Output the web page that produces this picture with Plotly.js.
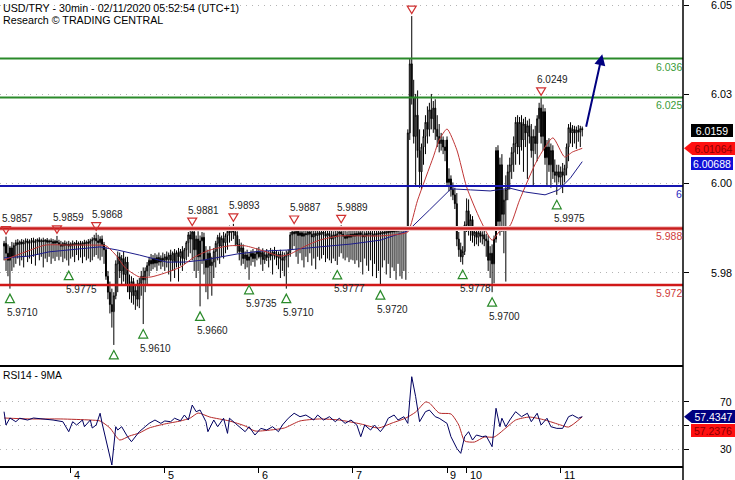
<!DOCTYPE html>
<html><head><meta charset="utf-8">
<script src="https://cdn.plot.ly/plotly-3.0.1.min.js"></script>
<style>html,body{margin:0;padding:0;background:#fff}#chart{width:735px;height:480px}</style>
</head><body><div id="chart"></div>
<script>
// ---------- data (30-min bars, index 0 = first bar on the chart) ----------
const dayTickBars = [34, 82, 130, 178, 226, 236, 284];
const dayTickLabels = ['4', '5', '6', '7', '9', '10', '11'];

const openP = [
5.9830,5.9838,5.9810,5.9790,5.9825,5.9800,5.9832,5.9840,5.9835,5.9842,
5.9836,5.9841,5.9845,5.9838,5.9843,5.9846,5.9840,5.9844,5.9848,5.9842,
5.9846,5.9843,5.9847,5.9841,5.9845,5.9843,5.9838,5.9844,5.9840,5.9835,
5.9830,5.9838,5.9832,5.9836,5.9830,5.9837,5.9833,5.9839,5.9834,5.9838,
5.9832,5.9840,5.9836,5.9842,5.9838,5.9845,5.9848,5.9852,5.9845,5.9840,
5.9850,5.9835,5.9820,5.9745,5.9700,5.9665,5.9645,5.9690,5.9780,5.9800,
5.9760,5.9795,5.9750,5.9785,5.9720,5.9700,5.9730,5.9690,5.9705,5.9680,
5.9725,5.9745,5.9735,5.9760,5.9775,5.9790,5.9780,5.9795,5.9782,5.9798,
5.9785,5.9796,5.9790,5.9800,5.9792,5.9805,5.9790,5.9810,5.9785,5.9812,
5.9800,5.9815,5.9795,5.9820,5.9840,5.9862,5.9850,5.9870,5.9820,5.9850,
5.9800,5.9845,5.9855,5.9790,5.9770,5.9810,5.9775,5.9785,5.9815,5.9838,
5.9855,5.9830,5.9852,5.9840,5.9860,5.9872,5.9868,5.9880,5.9870,5.9860,
5.9835,5.9815,5.9825,5.9795,5.9805,5.9790,5.9800,5.9810,5.9795,5.9808,
5.9815,5.9800,5.9812,5.9792,5.9806,5.9798,5.9810,5.9802,5.9814,5.9805,
5.9798,5.9808,5.9795,5.9790,5.9800,5.9805,5.9812,5.9862,5.9870,5.9865,
5.9872,5.9860,5.9868,5.9858,5.9866,5.9862,5.9870,5.9864,5.9856,5.9866,
5.9860,5.9868,5.9862,5.9870,5.9865,5.9858,5.9866,5.9860,5.9850,5.9862,
5.9856,5.9865,5.9870,5.9864,5.9858,5.9852,5.9862,5.9855,5.9864,5.9858,
5.9866,5.9860,5.9868,5.9862,5.9856,5.9866,5.9860,5.9868,5.9864,5.9858,
5.9866,5.9862,5.9868,5.9864,5.9870,5.9866,5.9872,5.9868,5.9874,5.9870,
5.9876,5.9872,5.9878,5.9874,5.9880,5.9876,5.9882,6.0150,6.0345,6.0250,
6.0140,6.0200,6.0100,6.0040,6.0110,6.0140,6.0180,6.0160,6.0215,6.0190,
6.0220,6.0160,6.0140,6.0120,6.0130,6.0110,6.0130,6.0010,6.0020,5.9990,
5.9975,5.9950,5.9850,5.9820,5.9800,5.9815,5.9890,5.9930,5.9880,5.9905,
5.9860,5.9870,5.9855,5.9868,5.9858,5.9862,5.9850,5.9845,5.9790,5.9810,
5.9780,5.9850,6.0100,5.9900,6.0060,5.9920,5.9960,5.9990,6.0040,6.0060,
6.0095,6.0120,6.0180,6.0110,6.0180,6.0130,6.0175,6.0150,6.0170,6.0140,
6.0100,6.0140,6.0120,6.0190,6.0220,6.0140,6.0210,6.0080,6.0110,6.0060,
6.0100,6.0040,6.0030,6.0040,6.0025,6.0040,6.0030,6.0050,6.0110,6.0165,
6.0150,6.0160,6.0150,6.0158,6.0152,6.0162];

const highP = [
5.9845,5.9857,5.9835,5.9830,5.9842,5.9840,5.9848,5.9850,5.9846,5.9850,
5.9848,5.9852,5.9851,5.9849,5.9853,5.9854,5.9850,5.9852,5.9855,5.9851,
5.9854,5.9850,5.9853,5.9849,5.9852,5.9850,5.9848,5.9859,5.9848,5.9845,
5.9842,5.9846,5.9843,5.9845,5.9841,5.9846,5.9842,5.9847,5.9843,5.9845,
5.9844,5.9848,5.9846,5.9850,5.9851,5.9855,5.9862,5.9868,5.9862,5.9858,
5.9860,5.9842,5.9828,5.9760,5.9730,5.9710,5.9700,5.9790,5.9815,5.9812,
5.9805,5.9815,5.9800,5.9800,5.9750,5.9745,5.9740,5.9720,5.9735,5.9740,
5.9760,5.9770,5.9770,5.9785,5.9800,5.9808,5.9805,5.9810,5.9806,5.9812,
5.9804,5.9812,5.9808,5.9815,5.9812,5.9820,5.9815,5.9822,5.9818,5.9825,
5.9822,5.9830,5.9825,5.9845,5.9870,5.9878,5.9881,5.9878,5.9860,5.9872,
5.9860,5.9870,5.9868,5.9830,5.9820,5.9830,5.9800,5.9825,5.9845,5.9862,
5.9868,5.9860,5.9870,5.9866,5.9880,5.9888,5.9886,5.9893,5.9885,5.9872,
5.9850,5.9840,5.9835,5.9815,5.9820,5.9812,5.9818,5.9822,5.9815,5.9825,
5.9828,5.9818,5.9824,5.9815,5.9822,5.9816,5.9825,5.9820,5.9828,5.9818,
5.9815,5.9820,5.9815,5.9812,5.9818,5.9820,5.9870,5.9880,5.9887,5.9880,
5.9882,5.9878,5.9880,5.9875,5.9881,5.9878,5.9883,5.9879,5.9874,5.9880,
5.9876,5.9882,5.9878,5.9884,5.9880,5.9875,5.9881,5.9876,5.9872,5.9878,
5.9874,5.9882,5.9889,5.9880,5.9876,5.9872,5.9878,5.9875,5.9878,5.9874,
5.9880,5.9876,5.9882,5.9878,5.9872,5.9880,5.9876,5.9882,5.9878,5.9875,
5.9880,5.9878,5.9882,5.9880,5.9882,5.9880,5.9884,5.9882,5.9885,5.9883,
5.9886,5.9884,5.9886,5.9884,5.9886,5.9885,6.0160,6.0360,6.0480,6.0300,
6.0260,6.0270,6.0160,6.0120,6.0160,6.0200,6.0225,6.0235,6.0260,6.0240,
6.0245,6.0200,6.0175,6.0150,6.0140,6.0130,6.0140,6.0050,6.0030,6.0010,
5.9995,5.9980,5.9870,5.9840,5.9830,5.9900,5.9965,5.9962,5.9920,5.9915,
5.9880,5.9885,5.9878,5.9880,5.9872,5.9875,5.9865,5.9860,5.9830,5.9835,
5.9860,6.0110,6.0115,6.0080,6.0090,5.9990,6.0030,6.0060,6.0080,6.0110,
6.0140,6.0195,6.0200,6.0195,6.0200,6.0190,6.0195,6.0185,6.0190,6.0175,
6.0160,6.0170,6.0200,6.0235,6.0249,6.0230,6.0220,6.0130,6.0135,6.0120,
6.0115,6.0075,6.0060,6.0060,6.0055,6.0065,6.0060,6.0120,6.0175,6.0180,
6.0172,6.0170,6.0168,6.0172,6.0170,6.0168];

const lowP = [
5.9790,5.9760,5.9745,5.9710,5.9760,5.9770,5.9780,5.9795,5.9775,5.9790,
5.9770,5.9800,5.9785,5.9795,5.9780,5.9800,5.9775,5.9805,5.9790,5.9800,
5.9770,5.9795,5.9785,5.9800,5.9780,5.9795,5.9788,5.9800,5.9790,5.9800,
5.9785,5.9795,5.9790,5.9775,5.9795,5.9800,5.9785,5.9805,5.9790,5.9798,
5.9782,5.9800,5.9790,5.9795,5.9785,5.9790,5.9800,5.9805,5.9795,5.9790,
5.9800,5.9780,5.9735,5.9680,5.9640,5.9600,5.9551,5.9680,5.9700,5.9740,
5.9720,5.9730,5.9720,5.9700,5.9680,5.9670,5.9665,5.9650,5.9660,5.9655,
5.9690,5.9610,5.9700,5.9720,5.9745,5.9760,5.9765,5.9770,5.9760,5.9775,
5.9765,5.9772,5.9760,5.9770,5.9750,5.9730,5.9760,5.9740,5.9770,5.9730,
5.9775,5.9760,5.9780,5.9790,5.9800,5.9810,5.9790,5.9760,5.9740,5.9760,
5.9660,5.9780,5.9750,5.9700,5.9680,5.9720,5.9690,5.9740,5.9770,5.9790,
5.9780,5.9800,5.9795,5.9810,5.9820,5.9840,5.9845,5.9850,5.9830,5.9810,
5.9790,5.9775,5.9780,5.9765,5.9770,5.9735,5.9775,5.9785,5.9772,5.9790,
5.9795,5.9778,5.9760,5.9780,5.9788,5.9770,5.9790,5.9750,5.9792,5.9776,
5.9765,5.9740,5.9760,5.9745,5.9710,5.9770,5.9800,5.9820,5.9830,5.9800,
5.9780,5.9810,5.9790,5.9770,5.9800,5.9785,5.9810,5.9775,5.9795,5.9765,
5.9800,5.9790,5.9795,5.9805,5.9785,5.9795,5.9790,5.9782,5.9795,5.9788,
5.9777,5.9800,5.9810,5.9795,5.9790,5.9798,5.9785,5.9792,5.9790,5.9780,
5.9790,5.9770,5.9785,5.9750,5.9795,5.9775,5.9760,5.9790,5.9745,5.9780,
5.9740,5.9760,5.9720,5.9770,5.9790,5.9750,5.9780,5.9740,5.9770,5.9760,
5.9735,5.9780,5.9745,5.9738,5.9760,5.9735,5.9875,6.0130,6.0230,6.0120,
6.0000,6.0080,5.9995,5.9990,6.0060,6.0090,6.0120,6.0140,6.0160,6.0150,
6.0130,6.0110,6.0095,6.0100,6.0090,6.0070,6.0000,5.9985,5.9970,5.9960,
5.9935,5.9830,5.9800,5.9785,5.9778,5.9805,5.9870,5.9860,5.9845,5.9840,
5.9830,5.9835,5.9830,5.9840,5.9835,5.9830,5.9800,5.9760,5.9740,5.9700,
5.9725,5.9840,5.9880,5.9860,5.9870,5.9810,5.9730,5.9960,5.9990,6.0020,
6.0040,6.0060,6.0090,6.0060,6.0100,6.0040,6.0110,6.0020,6.0120,6.0080,
6.0000,6.0090,6.0070,6.0150,6.0120,6.0100,6.0060,6.0000,6.0040,5.9995,
6.0020,6.0010,5.9975,6.0010,6.0000,5.9980,6.0010,6.0030,6.0070,6.0120,
6.0110,6.0120,6.0105,6.0125,6.0110,6.0140];

const closeP = [
5.9838,5.9810,5.9790,5.9825,5.9800,5.9832,5.9840,5.9835,5.9842,5.9836,
5.9841,5.9845,5.9838,5.9843,5.9846,5.9840,5.9844,5.9848,5.9842,5.9846,
5.9843,5.9847,5.9841,5.9845,5.9843,5.9838,5.9844,5.9840,5.9835,5.9830,
5.9838,5.9832,5.9836,5.9830,5.9837,5.9833,5.9839,5.9834,5.9838,5.9832,
5.9840,5.9836,5.9842,5.9838,5.9845,5.9848,5.9852,5.9845,5.9840,5.9850,
5.9835,5.9820,5.9745,5.9700,5.9665,5.9645,5.9690,5.9780,5.9800,5.9760,
5.9795,5.9750,5.9785,5.9720,5.9700,5.9730,5.9690,5.9705,5.9680,5.9725,
5.9745,5.9735,5.9760,5.9775,5.9790,5.9780,5.9795,5.9782,5.9798,5.9785,
5.9796,5.9790,5.9800,5.9792,5.9805,5.9790,5.9810,5.9785,5.9812,5.9800,
5.9815,5.9795,5.9820,5.9840,5.9862,5.9850,5.9870,5.9820,5.9850,5.9800,
5.9845,5.9855,5.9790,5.9770,5.9810,5.9775,5.9785,5.9815,5.9838,5.9855,
5.9830,5.9852,5.9840,5.9860,5.9872,5.9868,5.9880,5.9870,5.9860,5.9835,
5.9815,5.9825,5.9795,5.9805,5.9790,5.9800,5.9810,5.9795,5.9808,5.9815,
5.9800,5.9812,5.9792,5.9806,5.9798,5.9810,5.9802,5.9814,5.9805,5.9798,
5.9808,5.9795,5.9790,5.9800,5.9805,5.9812,5.9862,5.9870,5.9865,5.9872,
5.9860,5.9868,5.9858,5.9866,5.9862,5.9870,5.9864,5.9856,5.9866,5.9860,
5.9868,5.9862,5.9870,5.9865,5.9858,5.9866,5.9860,5.9850,5.9862,5.9856,
5.9865,5.9870,5.9864,5.9858,5.9852,5.9862,5.9855,5.9864,5.9858,5.9866,
5.9860,5.9868,5.9862,5.9856,5.9866,5.9860,5.9868,5.9864,5.9858,5.9866,
5.9862,5.9868,5.9864,5.9870,5.9866,5.9872,5.9868,5.9874,5.9870,5.9876,
5.9872,5.9878,5.9874,5.9880,5.9876,5.9882,6.0150,6.0345,6.0250,6.0140,
6.0200,6.0100,6.0040,6.0110,6.0140,6.0180,6.0160,6.0215,6.0190,6.0220,
6.0160,6.0140,6.0120,6.0130,6.0110,6.0100,6.0010,6.0020,5.9990,5.9975,
5.9950,5.9850,5.9820,5.9800,5.9815,5.9890,5.9930,5.9880,5.9905,5.9860,
5.9870,5.9855,5.9868,5.9858,5.9862,5.9850,5.9845,5.9790,5.9810,5.9780,
5.9850,6.0100,5.9900,6.0060,5.9920,5.9960,5.9990,6.0040,6.0060,6.0095,
6.0120,6.0180,6.0110,6.0180,6.0130,6.0175,6.0150,6.0170,6.0140,6.0100,
6.0140,6.0120,6.0190,6.0220,6.0140,6.0210,6.0080,6.0110,6.0060,6.0100,
6.0040,6.0030,6.0040,6.0025,6.0040,6.0030,6.0050,6.0110,6.0165,6.0150,
6.0160,6.0150,6.0158,6.0152,6.0162,6.0159];

// moving averages on price (read at key bars)
const maRedBars = [0,11,21,34,46,52,57,62,69,75,82,90,97,105,115,123,131,141,146,154,161,171,182,192,202,206,211,219,222,226,231,236,243,249,253,258,263,272,280,286,290,295];
const maRedValues = [5.9791,5.9814,5.9833,5.9833,5.9833,5.9831,5.9805,5.9768,5.9743,5.9743,5.9754,5.9771,5.9799,5.9819,5.9831,5.9831,5.9819,5.9802,5.9808,5.9831,5.9847,5.9859,5.9859,5.9859,5.9864,5.9870,5.9960,6.0082,6.0130,6.0161,6.0102,5.9997,5.9904,5.9847,5.9873,5.9887,5.9960,6.0073,6.0136,6.0082,6.0096,6.01064];
const maBlueBars = [0,13,23,36,49,58,69,83,92,102,119,131,144,161,177,192,206,217,228,238,248,258,266,276,283,289,295];
const maBlueValues = [5.9797,5.9802,5.9814,5.9822,5.9828,5.9819,5.9805,5.9785,5.9785,5.9791,5.9808,5.9816,5.9819,5.9828,5.9836,5.9847,5.9873,5.9932,5.9992,5.9989,5.9986,5.9994,5.9983,5.9975,5.9989,6.0023,6.00688];

// RSI14 and its 9MA
const rsiBars = [0,1,3,6,8,12,15,20,25,30,33,35,37,40,41,44,45,47,49,50,55,57,58,60,63,65,67,69,72,74,77,80,82,85,87,90,92,94,96,98,100,103,104,107,109,112,114,115,118,120,123,125,128,131,134,137,140,142,145,148,151,154,158,160,163,166,169,171,174,177,180,182,184,187,189,192,194,196,199,201,204,206,208,210,212,215,217,220,222,226,228,231,233,235,237,239,241,244,246,249,251,253,254,256,258,261,264,267,269,272,274,277,279,282,285,288,290,293,295];
const rsiValues = [61.6,50.4,56.3,53.2,56.1,54.6,56.3,55.5,54.6,53.2,44.8,53.2,50.4,54.6,49.0,54.6,47.9,50.4,60.3,52.1,16.8,49.0,46.2,49.0,40.6,36.4,40.6,44.8,49.0,51.8,54.6,51.8,53.8,53.2,56.1,54.0,58.8,54.6,67.2,61.6,63.0,53.2,44.8,54.6,49.0,56.1,43.4,56.1,51.8,49.0,44.8,49.0,42.0,47.6,46.2,49.0,44.8,50.4,56.1,60.3,57.4,58.8,54.6,58.8,54.6,57.4,53.2,56.1,51.8,54.6,50.4,40.6,50.4,46.2,50.4,44.8,49.0,56.1,58.8,54.6,57.4,51.8,91.0,74.2,53.2,61.6,63.0,57.4,56.1,51.8,40.6,30.8,26.6,40.6,44.8,37.8,42.0,40.6,41.2,32.2,64.5,49.0,56.1,49.0,54.6,61.6,57.4,60.3,53.2,60.3,50.4,56.1,49.0,47.6,47.6,57.4,58.8,56.1,57.4347];
const rsiMaBars = [0,13,29,44,49,54,59,64,69,74,82,90,95,99,105,115,123,128,136,143,151,161,171,182,191,198,205,210,215,217,222,228,232,235,240,245,250,256,261,268,276,284,288,295];
const rsiMaValues = [56.3,55.5,55.5,54.6,53.8,47.9,37.8,41.2,43.7,47.9,51.3,53.8,56.3,60.5,57.1,53.8,49.6,45.4,46.2,47.9,53.8,55.5,54.6,51.3,47.9,52.1,56.3,61.3,69.7,68.9,60.5,59.7,50.4,37.0,36.1,40.3,40.3,47.9,54.6,57.1,54.6,50.4,48.7,57.2376];

// swing points
const swingHighBars = [1,27,47,96,117,148,172,208,274];
const swingHighValues = [5.9857,5.9859,5.9868,5.9881,5.9893,5.9887,5.9889,6.0480,6.0249];
const swingHighLabels = ['5.9857','5.9859','5.9868','5.9881','5.9893','5.9887','5.9889','','6.0249'];
const swingLowBars = [3,33,56,71,100,125,144,170,192,234,249,282];
const swingLowValues = [5.9710,5.9775,5.9551,5.9610,5.9660,5.9735,5.9710,5.9777,5.9720,5.9778,5.9700,5.9975];
const swingLowLabels = ['5.9710','5.9775','','5.9610','5.9660','5.9735','5.9710','5.9777','5.9720','5.9778','5.9700','5.9975'];

// support / resistance levels
const levelValues = [6.036, 6.025, 6.000, 5.988, 5.972];
const levelLabels = ['6.036', '6.025', '6', '5.988', '5.972'];
const levelColors = ['#2a8a2a', '#2a8a2a', '#1616b0', '#c81e1e', '#d01818'];
const levelTextColors = ['#3a9c3a', '#3a9c3a', '#2a2ac0', '#d03a3a', '#d03a3a'];

// axis ticks
const priceTickValues = [5.9755, 6.0008, 6.0259, 6.0511];
const priceTickLabels = ['5.98', '6.00', '6.03', '6.05'];
const rsiTickValues = [30, 50, 70];
const rsiTickLabels = ['30', '', '70'];

// last-value tags
const lastClose = 6.0159, lastMaRed = 6.01064, lastMaBlue = 6.00688;
const lastRsi = 57.4347, lastRsiMa = 57.2376;

// forecast arrow
const arrowFrom = {bar: 296.8, price: 6.0163};
const arrowTo = {bar: 305.2, price: 6.0372};

// ---------- layout geometry ----------
const W = 735, H = 480, plotW = 683, plotH = 467, mainPx = 366;
const xRange = [-2.07, 346.4];
const yRange = [5.94915, 6.05254];
const rsiRange = [15.13, 100];
const split = 1 - mainPx / plotH;
const barIndex = openP.map((_, i) => i);
const FONT = 'Arial, "Liberation Sans", sans-serif';

const traces = [
  {type: 'candlestick', x: barIndex, open: openP, high: highP, low: lowP, close: closeP,
   xaxis: 'x', yaxis: 'y', whiskerwidth: 0, hoverinfo: 'skip',
   increasing: {line: {color: '#000', width: 1}, fillcolor: '#ffffff'},
   decreasing: {line: {color: '#000', width: 1}, fillcolor: '#000000'}},
  {type: 'scatter', mode: 'lines', x: maBlueBars, y: maBlueValues, xaxis: 'x', yaxis: 'y',
   line: {color: '#1c1c8a', width: 1}, hoverinfo: 'skip'},
  {type: 'scatter', mode: 'lines', x: maRedBars, y: maRedValues, xaxis: 'x', yaxis: 'y',
   line: {color: '#c03535', width: 1, shape: 'spline', smoothing: 0.6}, hoverinfo: 'skip'},
  {type: 'scatter', mode: 'lines', x: rsiMaBars, y: rsiMaValues, xaxis: 'x', yaxis: 'y2',
   line: {color: '#b52828', width: 1, shape: 'spline', smoothing: 0.6}, hoverinfo: 'skip'},
  {type: 'scatter', mode: 'lines', x: rsiBars, y: rsiValues, xaxis: 'x', yaxis: 'y2',
   line: {color: '#000060', width: 1}, hoverinfo: 'skip'}
];

const shapes = [];
// halo under the 5.988 line
shapes.push({type: 'line', xref: 'paper', x0: 0, x1: 1, yref: 'y', y0: 5.988, y1: 5.988,
  line: {color: '#f5cccc', width: 5}, layer: 'above'});
levelValues.forEach((v, i) => shapes.push({type: 'line', xref: 'paper', x0: 0, x1: 1, yref: 'y', y0: v, y1: v,
  line: {color: levelColors[i], width: i >= 3 ? 2.5 : 2}, layer: 'above'}));
// swing markers: open triangles placed a few pixels off the extreme
swingHighBars.forEach((b, i) => shapes.push({type: 'path', xref: 'x', yref: 'y', xsizemode: 'pixel', ysizemode: 'pixel',
  xanchor: b, yanchor: swingHighValues[i], path: 'M -4.5 10 L 4.5 10 L 0 2.5 Z',
  line: {color: '#d03030', width: 1.2}, fillcolor: 'rgba(255,255,255,0)'}));
swingLowBars.forEach((b, i) => shapes.push({type: 'path', xref: 'x', yref: 'y', xsizemode: 'pixel', ysizemode: 'pixel',
  xanchor: b, yanchor: swingLowValues[i], path: 'M -4.5 -14 L 4.5 -14 L 0 -5.5 Z',
  line: {color: '#2a8a2a', width: 1.2}, fillcolor: 'rgba(255,255,255,0)'}));
// panel borders
shapes.push({type: 'line', xref: 'paper', x0: 0, x1: 1, yref: 'paper', y0: split, y1: split, line: {color: '#000', width: 2}});
shapes.push({type: 'line', xref: 'paper', x0: 0, x1: 1, yref: 'paper', y0: 0, y1: 0, line: {color: '#000', width: 2}});
shapes.push({type: 'line', xref: 'paper', x0: 1, x1: 1, yref: 'paper', y0: -13 / plotH, y1: 1, line: {color: '#000', width: 1.5}});
// tag pointers
function pointer(yref, val, color) {
  return {type: 'path', xref: 'paper', yref: yref, xsizemode: 'pixel', ysizemode: 'pixel',
    xanchor: 1, yanchor: val, path: 'M 1 0 L 9 6.5 L 9 -6.5 Z', fillcolor: color, line: {width: 0}};
}
shapes.push(pointer('y', lastMaRed, '#ff1010'));
shapes.push(pointer('y2', lastRsi, '#000080'));

const ann = [];
const txt = (o, size, color) => Object.assign({showarrow: false,
  font: {family: FONT, size: size || 11, color: color || '#000'}}, o);
ann.push(txt({xref: 'paper', yref: 'paper', x: 0, y: 1 - 8 / plotH, xanchor: 'left', yanchor: 'middle', xshift: 1,
  text: 'USD/TRY - 30min - 02/11/2020 05:52:54 (UTC+1)'}, 10.7));
ann.push(txt({xref: 'paper', yref: 'paper', x: 0, y: 1 - 20 / plotH, xanchor: 'left', yanchor: 'middle', xshift: 1,
  text: 'Research © TRADING CENTRAL'}, 10.7));
ann.push(txt({xref: 'paper', yref: 'paper', x: 0, y: (plotH - 375) / plotH, xanchor: 'left', yanchor: 'middle', xshift: 1,
  text: 'RSI14 - 9MA'}, 10.3));
levelValues.forEach((v, i) => ann.push(txt({xref: 'paper', yref: 'y', x: 1, y: v, xanchor: 'right', yanchor: 'middle',
  xshift: 1, yshift: -8, text: levelLabels[i]}, 10.5, levelTextColors[i])));
swingHighBars.forEach((b, i) => { if (swingHighLabels[i]) ann.push(txt({xref: 'x', yref: 'y', x: b, y: swingHighValues[i],
  xanchor: 'left', yanchor: 'middle', xshift: -6, yshift: 18, text: swingHighLabels[i]}, 10, '#222')); });
swingLowBars.forEach((b, i) => { if (swingLowLabels[i]) ann.push(txt({xref: 'x', yref: 'y', x: b, y: swingLowValues[i],
  xanchor: 'left', yanchor: 'middle', xshift: -5, yshift: -24, text: swingLowLabels[i]}, 10, '#222')); });
priceTickValues.forEach((v, i) => ann.push(txt({xref: 'paper', yref: 'y', x: 734 / plotW, y: v, xanchor: 'right', yanchor: 'middle', text: priceTickLabels[i]}, 10.8)));
rsiTickValues.forEach((v, i) => { if (rsiTickLabels[i]) ann.push(txt({xref: 'paper', yref: 'y2', x: 734 / plotW, y: v, xanchor: 'right', yanchor: 'middle', text: rsiTickLabels[i]}, 10.5)); });
dayTickBars.forEach((b, i) => ann.push(txt({xref: 'x', yref: 'paper', x: b, y: 0, xanchor: 'left', yanchor: 'middle', xshift: 1, yshift: -8, text: dayTickLabels[i]}, 10.8)));
// value tags
function tag(yref, val, label, bg, fg, cx, w, yshift) {
  return txt({xref: 'paper', yref: yref, x: cx / plotW, y: val, xanchor: 'center', yanchor: 'middle', yshift: yshift || 0,
    text: label, bgcolor: bg, borderpad: 0, borderwidth: 0, width: w, height: 13}, 10.5, fg);
}
ann.push(tag('y', lastClose, lastClose.toFixed(4), '#000000', '#ffffff', 712, 42, -1));
ann.push(tag('y', lastMaRed, lastMaRed.toFixed(5), '#ff1010', '#8a0000', 713.5, 43, 0));
ann.push(tag('y', lastMaBlue, lastMaBlue.toFixed(5), '#1010d8', '#ffffff', 712, 42, -2));
ann.push(tag('y2', lastRsi, lastRsi.toFixed(4), '#000080', '#ffffff', 713.5, 43, 0));
ann.push(tag('y2', lastRsiMa, lastRsiMa.toFixed(4), '#ff1010', '#8a0000', 713, 44, -13.5));
// forecast arrow
ann.push({xref: 'x', yref: 'y', x: arrowTo.bar, y: arrowTo.price, axref: 'x', ayref: 'y', ax: arrowFrom.bar, ay: arrowFrom.price,
  showarrow: true, text: '', arrowhead: 2, arrowsize: 1.1, arrowwidth: 2, arrowcolor: '#000080'});

const axisCommon = {ticks: 'outside', ticklen: 5, tickcolor: '#000', tickwidth: 1, showticklabels: false,
  zeroline: false, showline: false, fixedrange: true};
const layout = {
  width: W, height: H, margin: {l: 0, r: W - plotW, t: 0, b: H - plotH, pad: 0},
  paper_bgcolor: '#fff', plot_bgcolor: '#fff', showlegend: false, dragmode: false,
  font: {family: FONT, size: 11, color: '#000'},
  xaxis: Object.assign({}, axisCommon, {range: xRange, anchor: 'y2', tickvals: dayTickBars, showgrid: false,
    rangeslider: {visible: false}}),
  yaxis: Object.assign({}, axisCommon, {domain: [split, 1], range: yRange, side: 'right', anchor: 'x',
    tickvals: priceTickValues, showgrid: true, gridcolor: '#b4b4b4', griddash: '1px,5px', gridwidth: 1}),
  yaxis2: Object.assign({}, axisCommon, {domain: [0, split], range: rsiRange, side: 'right', anchor: 'x',
    tickvals: rsiTickValues, showgrid: true, gridcolor: '#b4b4b4', griddash: '1px,5px', gridwidth: 1}),
  shapes: shapes, annotations: ann
};
Plotly.newPlot('chart', traces, layout, {displayModeBar: false, staticPlot: true});
</script></body></html>
